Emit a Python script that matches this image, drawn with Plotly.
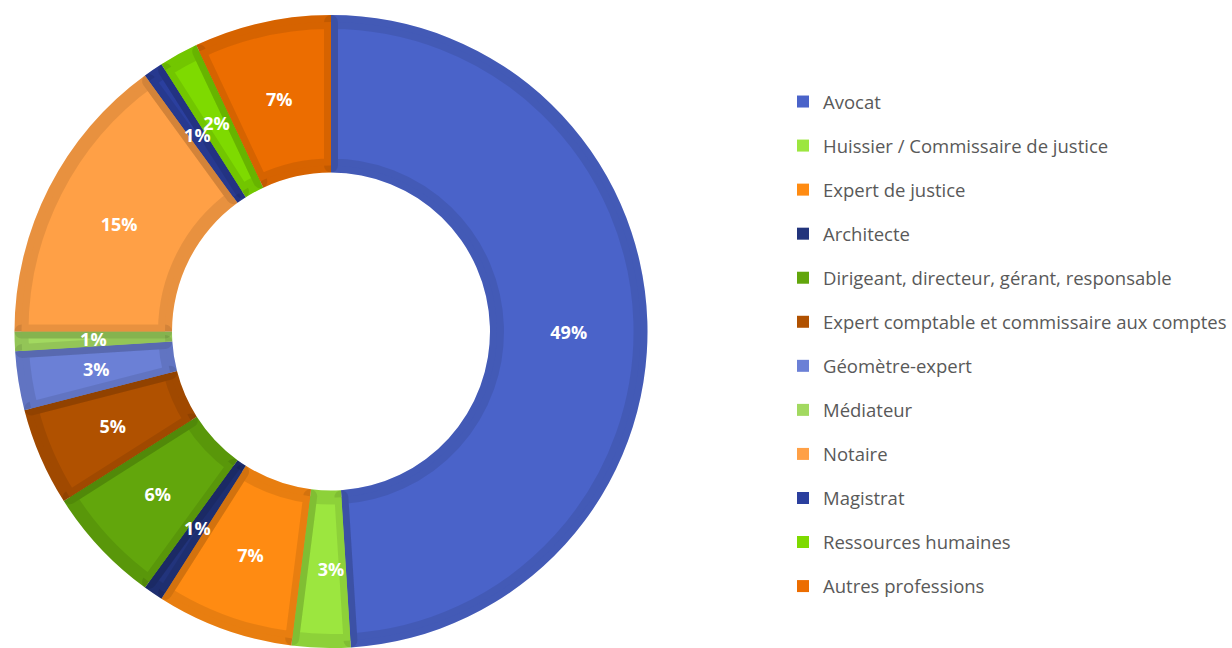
import plotly.graph_objects as go

labels = [
    "Avocat",
    "Huissier / Commissaire de justice",
    "Expert de justice",
    "Architecte",
    "Dirigeant, directeur, gérant, responsable",
    "Expert comptable et commissaire aux comptes",
    "Géomètre-expert",
    "Médiateur",
    "Notaire",
    "Magistrat",
    "Ressources humaines",
    "Autres professions",
]
values = [49, 3, 7, 1, 6, 5, 3, 1, 15, 1, 2, 7]
colors = [
    "#4A63C9", "#9CE63F", "#FF8B12", "#22347C", "#62A60C", "#B05100",
    "#6B80D6", "#A2D960", "#FFA046", "#2B3F9E", "#7EDA00", "#EC6D00",
]

W, H = 1232, 648
cx, cy = 331, 331.5          # centre in pixels (from top-left)
R, r, bw = 316.5, 159, 7     # outer radius, inner radius, inner border width


def dom(rad):
    return dict(
        x=[(cx - rad) / W, (cx + rad) / W],
        y=[(H - cy - rad) / H, (H - cy + rad) / H],
    )


common = dict(labels=labels, values=values, sort=False, direction="clockwise",
              rotation=0, showlegend=False)

fig = go.Figure()

# base ring (slice colours right up to the outer/inner edges)
fig.add_trace(go.Pie(
    **common, hole=r / R, domain=dom(R),
    marker=dict(colors=colors, line=dict(width=0)),
    textinfo="none", hoverinfo="label+percent",
))

# top ring with semi-transparent darker strokes -> inset border look
R2 = R - bw
fig.add_trace(go.Pie(
    **common, hole=(r + bw) / R2, domain=dom(R2),
    marker=dict(colors=colors, line=dict(color="rgba(0,0,0,0.09)", width=2 * bw)),
    textinfo="none", hoverinfo="label+percent",
))

# thin transparent ring at mid radius that carries the percentage labels
ring = 0.06
Rt = ((r + R) / 2) / (1 - ring / 2)
fig.add_trace(go.Pie(
    **common, hole=1 - ring, domain=dom(Rt),
    marker=dict(colors=["rgba(0,0,0,0)"] * len(values), line=dict(width=0)),
    texttemplate="%{percent:.0%}", textposition="inside",
    insidetextorientation="horizontal",
    textfont=dict(family="Open Sans", size=18, color="white", weight="bold"),
    hoverinfo="skip",
))

# legend entries
for lab, col in zip(labels, colors):
    fig.add_trace(go.Scatter(
        x=[None], y=[None], mode="markers", name=lab, legendgroup=lab,
        marker=dict(symbol="square", size=12, color=col),
        showlegend=True, hoverinfo="skip",
    ))

fig.update_layout(
    width=W, height=H,
    margin=dict(l=0, r=0, t=0, b=0),
    paper_bgcolor="white", plot_bgcolor="white",
    xaxis=dict(visible=False), yaxis=dict(visible=False),
    uniformtext=dict(minsize=18, mode="show"),
    legend=dict(
        x=783 / W, xanchor="left", y=1 - 83 / H, yanchor="top",
        font=dict(family="Open Sans", size=18.5, color="#595959"),
        tracegroupgap=17, bgcolor="rgba(0,0,0,0)", borderwidth=0,
        itemclick=False, itemdoubleclick=False,
    ),
)

fig.write_html("out.html")
